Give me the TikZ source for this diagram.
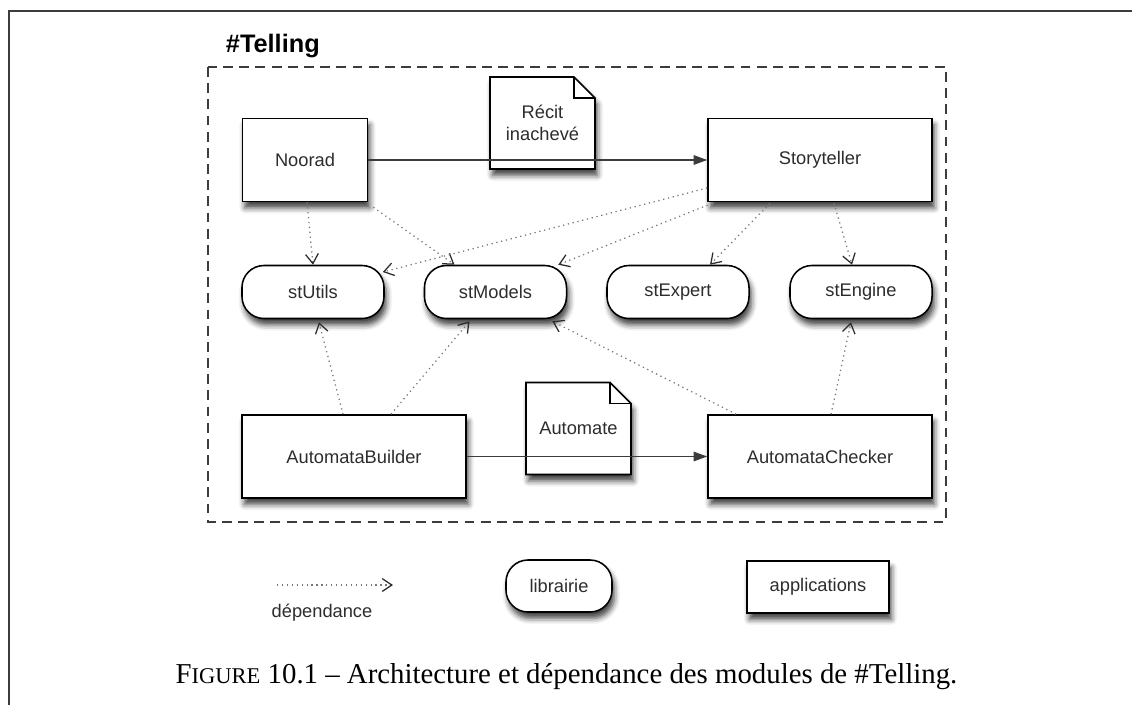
\documentclass[tikz,border=0pt]{standalone}
\usepackage{fontspec}
\setmainfont{Liberation Serif}
\setsansfont{Liberation Sans}
\usetikzlibrary{arrows.meta, calc, shadows.blur}
\definecolor{cText}{RGB}{45,45,45}
\definecolor{cLine}{RGB}{60,60,60}
\definecolor{cDot}{RGB}{120,120,120}
\tikzset{
	softshadow/.style={blur shadow={shadow xshift=0.06cm, shadow yshift=-0.16cm, shadow blur radius=0.14cm, shadow opacity=75}},
	appbox/.style ={rectangle, draw=black, line width=1.1pt, fill=white, text=cText, minimum width=5.6cm, minimum height=2.075cm, softshadow},
	libpill/.style={rectangle, rounded corners=0.55cm, draw=black, line width=1.1pt, fill=white, text=cText, minimum width=3.55cm, minimum height=1.325cm, softshadow},
	docnode/.style={rectangle, text=cText, align=center, minimum width=2.625cm, minimum height=2.3cm, inner sep=0pt},
	docline/.style={draw=black, line width=1.1pt, fill=white, softshadow},
	flow/.style   ={-{Triangle[length=3.4mm, width=2.4mm]}, draw=cLine, line width=0.8pt},
	dep/.style    ={-{Straight Barb[length=2.4mm, width=3.2mm, color=cText]}, draw=cDot, line width=0.9pt, dash pattern=on 0.9pt off 2.6pt},
}
% page with a folded corner (105 x 92 px), text laid on top
\newcommand{\docpage}[3]{%
	\draw[docline] ($(#2)+(-52.5,-46)$) -- ($(#2)+(31.5,-46)$) -- ($(#2)+(52.5,-25)$) -- ($(#2)+(52.5,46)$) -- ($(#2)+(-52.5,46)$) -- cycle;
	\draw[black, line width=0.9pt] ($(#2)+(31.5,-46)$) |- ($(#2)+(52.5,-25)$);
	\node[docnode] (#1) at (#2) {#3};
}

\begin{document}
\begin{tikzpicture}[x=0.025cm, y=-0.025cm, font=\sffamily\fontsize{13}{15.5}\selectfont]
	\useasboundingbox (0,0) rectangle (1132,705);
	% page frame
	\draw[cLine, line width=1pt] (1132,11) -- (9,11) -- (9,705);
	% module box
	\node[anchor=base west, font=\sffamily\bfseries\fontsize{18}{21}\selectfont] (title) at (221,52) {\#Telling};
	\draw[cLine, line width=0.9pt, dash pattern=on 7pt off 4.5pt] (208,67) rectangle (946,522);

	\node[appbox, minimum width=3.125cm] (noorad) at (305,160) {Noorad};
	\node[appbox] (story) at (820,160) {Storyteller};
	\docpage{recit}{542.5,123}{Récit\\inachevé}

	\node[libpill] (stutils) at (313,292) {stUtils};
	\node[libpill] (stmodels) at (495.5,292) {stModels};
	\node[libpill] (stexpert) at (678,292) {stExpert};
	\node[libpill] (stengine) at (861,292) {stEngine};

	\node[appbox] (builder) at (354,456.5) {AutomataBuilder};
	\node[appbox] (checker) at (820,456.5) {AutomataChecker};
	\docpage{automate}{578.5,428.5}{Automate}

	\draw[flow] (noorad) -- (story);
	\draw[flow] (builder) -- (checker);

	\draw[dep] ($(noorad.south)+(2,0)$) -- (stutils.north);
	\draw[dep] ($(noorad.south east)+(5,5)$) -- ($(stmodels.north)+(-41,0)$);
	\draw[dep] ($(story.west)+(0,28)$) -- ($(stutils.east)+(-2,-20)$);
	\draw[dep] ($(story.south west)+(5,1)$) -- ($(stmodels.north east)+(-9,0)$);
	\draw[dep] ($(story.south)+(-50,1)$) -- ($(stexpert.north)+(32,0)$);
	\draw[dep] ($(story.south)+(14,1)$) -- ($(stengine.north)+(-9,0)$);
	\draw[dep] ($(builder.north)+(-11,0)$) -- ($(stutils.south)+(6,3)$);
	\draw[dep] ($(builder.north)+(37,0)$) -- ($(stmodels.south)+(-26,2)$);
	\draw[dep] ($(checker.north west)+(29,0)$) -- ($(stmodels.south east)+(-15,2)$);
	\draw[dep] ($(checker.north)+(11,0)$) -- ($(stengine.south)+(-10,3)$);

	% legend
	\coordinate (depfrom) at (277,585);
	\coordinate (depto) at (393,585);
	\draw[dep] (depfrom) -- (depto);
	\node[text=cText] (deplabel) at (322,613) {dépendance};
	\node[libpill, minimum width=2.65cm, minimum height=1.3cm] (leglib) at (559,586) {librairie};
	\node[appbox, minimum width=3.55cm, minimum height=1.3cm] (legapp) at (818,587) {applications};

	\node[anchor=base, font=\rmfamily\fontsize{20.5}{24}\selectfont] (caption) at (566.5,683)
		{F{\fontsize{16}{20}\selectfont IGURE} 10.1 – Architecture et dépendance des modules de \#Telling.};
\end{tikzpicture}
\end{document}
